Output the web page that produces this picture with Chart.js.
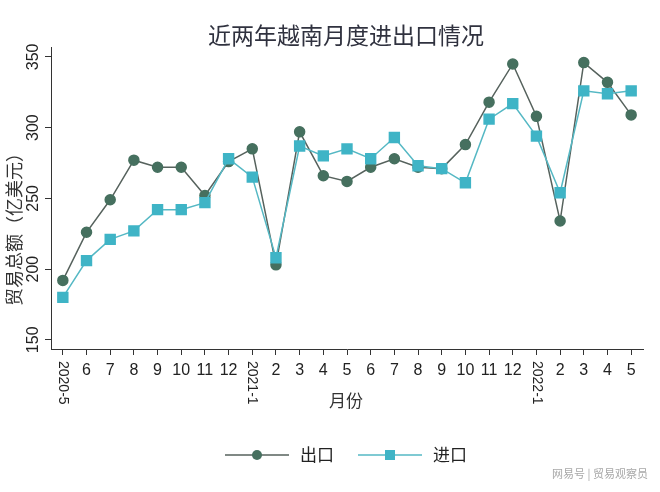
<!DOCTYPE html>
<html>
<head>
<meta charset="utf-8">
<script src="https://cdn.jsdelivr.net/npm/chart.js@4"></script>
<style>
  body { margin: 0; background: #fff; }
  #wrap { width: 660px; height: 492px; position: relative; }
</style>
</head>
<body>
<div id="wrap"><canvas id="chart"></canvas></div>
<script>
// monthly values, 100 million USD
const months = ["2020-5", "6", "7", "8", "9", "10", "11", "12",
  "2021-1", "2", "3", "4", "5", "6", "7", "8", "9", "10", "11", "12",
  "2022-1", "2", "3", "4", "5"];
const exportValues = [192, 226, 249, 277, 272, 272, 252, 276,
  285, 203, 297, 266, 262, 272, 278, 272, 271, 288, 318, 345,
  308, 234, 346, 332, 309];
const importValues = [180, 206, 221, 227, 242, 242, 247, 278,
  265, 208, 287, 280, 285, 278, 293, 273, 271, 261, 306, 317,
  294, 254, 326, 324, 326];
const yTicks = [150, 200, 250, 300, 350];

const titleText = "近两年越南月度进出口情况";
const yTitle = "贸易总额（亿美元）";
const xTitle = "月份";
const watermark = "网易号 | 贸易观察员";

const latin = '"Liberation Sans", "Noto Sans CJK SC", sans-serif';
const cjk = '"Noto Sans CJK SC", sans-serif';

const exportColor = "#46705f";
const exportLine = "#56625d";
const importColor = "#3fb4c6";
const importLine = "#55b8c4";

// draws title, tick labels, axis titles and legend by hand
const labelPlugin = {
  id: "labels",
  afterDraw(chart) {
    const ctx = chart.ctx;
    const xs = chart.scales.x;
    const ys = chart.scales.y;
    ctx.save();

    ctx.fillStyle = "#30323f";
    ctx.font = "23px " + cjk;
    ctx.textAlign = "center";
    ctx.textBaseline = "middle";
    ctx.fillText(titleText, 346, 35);

    // y tick labels (rotated)
    ctx.fillStyle = "#222";
    ctx.font = "16px " + latin;
    yTicks.forEach((v) => {
      ctx.save();
      ctx.translate(34, ys.getPixelForValue(v));
      ctx.rotate(-Math.PI / 2);
      ctx.textAlign = "center";
      ctx.textBaseline = "middle";
      ctx.fillText(String(v), 0, 0);
      ctx.restore();
    });

    // x tick labels, the year ones stand vertical
    months.forEach((m, i) => {
      const px = xs.getPixelForValue(i);
      if (m.includes("-")) {
        ctx.save();
        ctx.font = "14px " + latin;
        ctx.translate(px, 361);
        ctx.rotate(Math.PI / 2);
        ctx.textAlign = "left";
        ctx.textBaseline = "middle";
        ctx.fillText(m, 0, 0);
        ctx.restore();
      } else {
        ctx.font = "16px " + latin;
        ctx.textAlign = "center";
        ctx.textBaseline = "middle";
        ctx.fillText(m, px, 371);
      }
    });

    // axis titles
    ctx.fillStyle = "#333";
    ctx.font = "18px " + cjk;
    ctx.save();
    ctx.translate(14, 225);
    ctx.rotate(-Math.PI / 2);
    ctx.textAlign = "center";
    ctx.textBaseline = "middle";
    ctx.fillText(yTitle, 0, 0);
    ctx.restore();

    ctx.font = "17px " + cjk;
    ctx.textAlign = "center";
    ctx.fillText(xTitle, 346, 401);

    // legend
    const ly = 455;
    chart.data.datasets.forEach((ds, k) => {
      const x0 = k === 0 ? 225 : 358;
      ctx.strokeStyle = ds.borderColor;
      ctx.lineWidth = 1.5;
      ctx.beginPath();
      ctx.moveTo(x0, ly);
      ctx.lineTo(x0 + 64, ly);
      ctx.stroke();
      ctx.fillStyle = ds.pointBackgroundColor;
      if (ds.pointStyle === "rect") {
        ctx.fillRect(x0 + 32 - 5, ly - 5, 10, 10);
      } else {
        ctx.beginPath();
        ctx.arc(x0 + 32, ly, 5, 0, Math.PI * 2);
        ctx.fill();
      }
      ctx.fillStyle = "#222";
      ctx.font = "17px " + cjk;
      ctx.textAlign = "left";
      ctx.fillText(ds.label, x0 + 75, ly);
    });

    ctx.fillStyle = "#a8a8a8";
    ctx.font = "11px " + cjk;
    ctx.textAlign = "right";
    ctx.fillText(watermark, 648, 474);

    ctx.restore();
  },
};

const axisGrid = {
  display: true,
  drawOnChartArea: false,
  drawTicks: true,
  tickLength: 6,
  color: "#333",
  lineWidth: 1,
  offset: false,
};

new Chart(document.getElementById("chart"), {
  type: "line",
  data: {
    labels: months,
    datasets: [
      {
        label: "出口",
        data: exportValues,
        borderColor: exportLine,
        backgroundColor: exportColor,
        pointBackgroundColor: exportColor,
        pointBorderColor: exportColor,
        pointStyle: "circle",
        pointRadius: 5,
        borderWidth: 1.5,
        tension: 0,
        order: 1,
      },
      {
        label: "进口",
        data: importValues,
        borderColor: importLine,
        backgroundColor: importColor,
        pointBackgroundColor: importColor,
        pointBorderColor: importColor,
        pointStyle: "rect",
        pointRadius: 7,
        borderWidth: 1.5,
        tension: 0,
        order: 0,
      },
    ],
  },
  options: {
    responsive: true,
    maintainAspectRatio: false,
    animation: false,
    layout: { padding: { top: 47, right: 17, left: 0, bottom: 0 } },
    plugins: {
      legend: { display: false },
      title: { display: false },
      tooltip: { enabled: false },
    },
    scales: {
      x: {
        type: "category",
        offset: true,
        grid: axisGrid,
        border: { display: true, color: "#333", width: 1 },
        ticks: { display: false },
        afterFit(scale) {
          scale.height = 143;
        },
      },
      y: {
        min: 143.5,
        max: 357,
        afterBuildTicks(scale) {
          scale.ticks = yTicks.map((v) => ({ value: v }));
        },
        grid: axisGrid,
        border: { display: true, color: "#333", width: 1 },
        ticks: { display: false },
        afterFit(scale) {
          scale.width = 51;
        },
      },
    },
  },
  plugins: [labelPlugin],
});
</script>
</body>
</html>
